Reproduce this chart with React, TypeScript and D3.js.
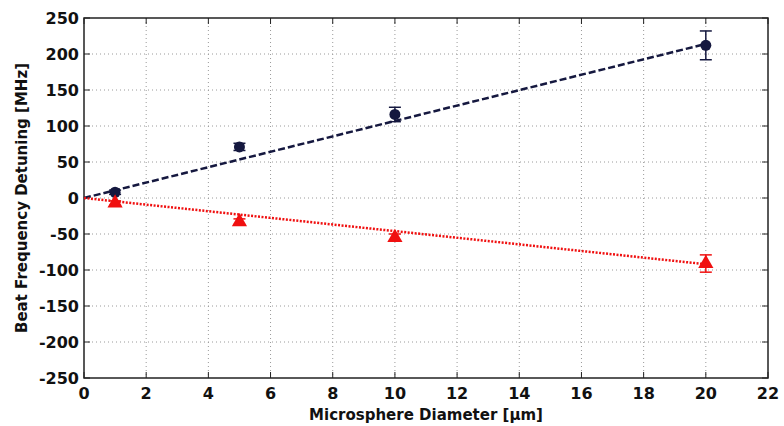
import * as d3 from 'd3';
import React from 'react';

const diameters = [1, 5, 10, 20];
const blueValues = [8, 71, 116, 212];
const blueErrors = [3, 5, 10, 20];
const redValues = [-7, -33, -55, -91];
const redErrors = [3, 4, 5, 12];
const blueFit = [[0, 0], [20, 214]];
const redFit = [[0, 0], [20, -92]];
const xTicks = [0, 2, 4, 6, 8, 10, 12, 14, 16, 18, 20, 22];
const yTicks = [-250, -200, -150, -100, -50, 0, 50, 100, 150, 200, 250];

const W = 784, H = 426;
const left = 84, right = 768, top = 18, bottom = 378;

function App() {
  const x = d3.scaleLinear().domain([0, 22]).range([left, right]);
  const y = d3.scaleLinear().domain([-250, 250]).range([bottom, top]);
  const line = d3.line<number[]>().x(d => x(d[0])).y(d => y(d[1]));
  const tri = d3.symbol().type(d3.symbolTriangle).size(100)();
  const font = "'DejaVu Sans', Arial, sans-serif";
  const navy = '#15183f';
  const red = '#f01010';

  return (
    <svg width={W} height={H} style={{ position: 'absolute', left: 0, top: 0, background: '#fff' }}>
      {/* grid */}
      {xTicks.slice(1, -1).map(t => (
        <line key={'gx' + t} x1={x(t)} x2={x(t)} y1={top} y2={bottom} stroke="#9a9a9a" strokeWidth={1} strokeDasharray="1,3" />
      ))}
      {yTicks.slice(1, -1).map(t => (
        <line key={'gy' + t} x1={left} x2={right} y1={y(t)} y2={y(t)} stroke="#9a9a9a" strokeWidth={1} strokeDasharray="1,3" />
      ))}
      {/* frame */}
      <rect x={left} y={top} width={right - left} height={bottom - top} fill="none" stroke="#222" strokeWidth={1.5} />
      {xTicks.map(t => (
        <g key={'tx' + t}>
          <line x1={x(t)} x2={x(t)} y1={bottom} y2={bottom - 6} stroke="#222" />
          <line x1={x(t)} x2={x(t)} y1={top} y2={top + 6} stroke="#222" />
          <text x={x(t)} y={bottom + 21} textAnchor="middle" fontFamily={font} fontWeight="bold" fontSize={16} fill="#111">{t}</text>
        </g>
      ))}
      {yTicks.map(t => (
        <g key={'ty' + t}>
          <line x1={left} x2={left + 6} y1={y(t)} y2={y(t)} stroke="#222" />
          <line x1={right} x2={right - 6} y1={y(t)} y2={y(t)} stroke="#222" />
          <text x={left - 5} y={y(t) + 6} textAnchor="end" fontFamily={font} fontWeight="bold" fontSize={16} fill="#111">{t}</text>
        </g>
      ))}
      {/* fits */}
      <path d={line(blueFit) || ''} fill="none" stroke={navy} strokeWidth={2.5} strokeDasharray="7,3" />
      <path d={line(redFit) || ''} fill="none" stroke={red} strokeWidth={2.5} strokeDasharray="2,1.5" />
      {/* blue points */}
      {diameters.map((d, i) => (
        <g key={'b' + i} stroke={navy} strokeWidth={1.5}>
          <line x1={x(d)} x2={x(d)} y1={y(blueValues[i] - blueErrors[i])} y2={y(blueValues[i] + blueErrors[i])} />
          <line x1={x(d) - 6} x2={x(d) + 6} y1={y(blueValues[i] - blueErrors[i])} y2={y(blueValues[i] - blueErrors[i])} />
          <line x1={x(d) - 6} x2={x(d) + 6} y1={y(blueValues[i] + blueErrors[i])} y2={y(blueValues[i] + blueErrors[i])} />
          <circle cx={x(d)} cy={y(blueValues[i])} r={5.5} fill={navy} stroke="none" />
        </g>
      ))}
      {/* red points */}
      {diameters.map((d, i) => (
        <g key={'r' + i} stroke={red} strokeWidth={1.5}>
          <line x1={x(d)} x2={x(d)} y1={y(redValues[i] - redErrors[i])} y2={y(redValues[i] + redErrors[i])} />
          <line x1={x(d) - 6} x2={x(d) + 6} y1={y(redValues[i] - redErrors[i])} y2={y(redValues[i] - redErrors[i])} />
          <line x1={x(d) - 6} x2={x(d) + 6} y1={y(redValues[i] + redErrors[i])} y2={y(redValues[i] + redErrors[i])} />
          <path d={tri || ''} transform={`translate(${x(d)},${y(redValues[i])})`} fill={red} stroke="none" />
        </g>
      ))}
      {/* titles */}
      <text x={(left + right) / 2} y={420} textAnchor="middle" fontFamily={font} fontWeight="bold" fontSize={15} fill="#111">Microsphere Diameter [μm]</text>
      <text transform={`translate(27,${(top + bottom) / 2}) rotate(-90)`} textAnchor="middle" fontFamily={font} fontWeight="bold" fontSize={15} fill="#111">Beat Frequency Detuning [MHz]</text>
    </svg>
  );
}

export default App;
